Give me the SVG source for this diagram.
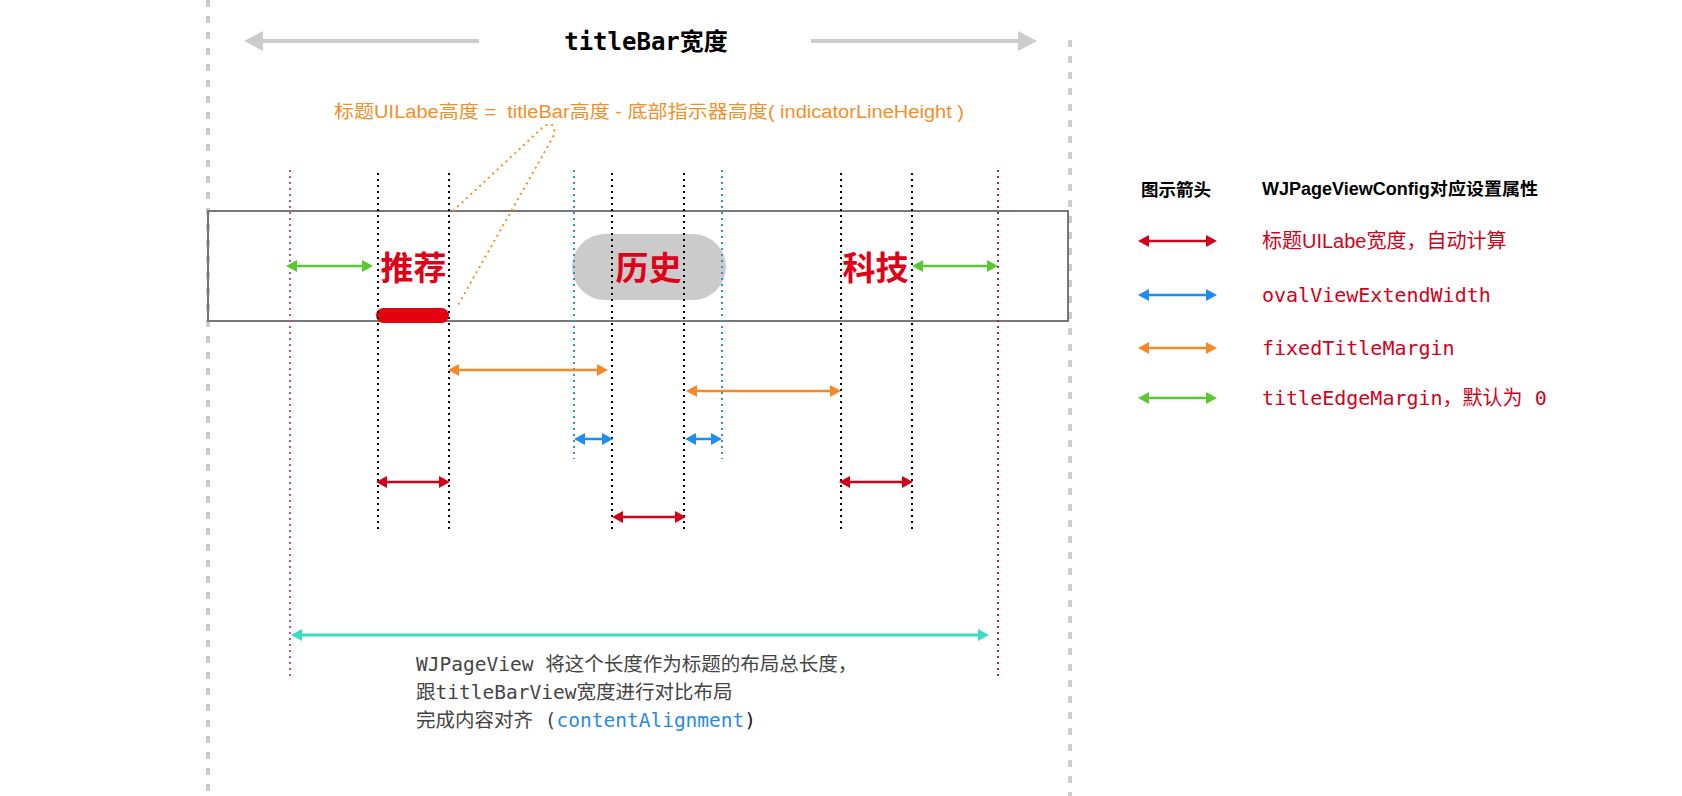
<svg xmlns="http://www.w3.org/2000/svg" width="1682" height="796" viewBox="0 0 1682 796">
<style>
.guide{fill:none;stroke:#cccccc;stroke-width:4;stroke-dasharray:7 9}
.dotk{stroke:#000;stroke-width:2;stroke-dasharray:2 4}
.dotb{stroke:#3a8fd0;stroke-width:2;stroke-dasharray:2 4}
.dotp1{stroke:#c8508c;stroke-width:2;stroke-dasharray:2 4}
.dotp2{stroke:#952a5c;stroke-width:2;stroke-dasharray:2 4}
.tt{font-family:"Noto Sans CJK SC",sans-serif;font-weight:bold;font-size:33px;fill:#e00018;text-anchor:middle}
.a{stroke-width:2.5;fill:none}
.ared{stroke:#d0021b;marker-start:url(#mr);marker-end:url(#mr)}
.ablue{stroke:#1e8cf0;marker-start:url(#mb);marker-end:url(#mb)}
.aor{stroke:#f5892a;marker-start:url(#mo);marker-end:url(#mo)}
.agr{stroke:#5ac832;marker-start:url(#mg);marker-end:url(#mg)}
.lg{font-size:20px;fill:#d0021b}
.mono{font-family:"DejaVu Sans Mono","Noto Sans CJK SC",monospace}
.sans{font-family:"Liberation Sans","Noto Sans CJK SC",sans-serif}
</style>
<defs>
<marker id="mr" viewBox="0 0 11 12" refX="0" refY="6" markerWidth="11" markerHeight="12" markerUnits="userSpaceOnUse" orient="auto-start-reverse"><path d="M0,0 L11,6 L0,12 z" fill="#d0021b"/></marker>
<marker id="mb" viewBox="0 0 11 12" refX="0" refY="6" markerWidth="11" markerHeight="12" markerUnits="userSpaceOnUse" orient="auto-start-reverse"><path d="M0,0 L11,6 L0,12 z" fill="#1e8cf0"/></marker>
<marker id="mo" viewBox="0 0 11 12" refX="0" refY="6" markerWidth="11" markerHeight="12" markerUnits="userSpaceOnUse" orient="auto-start-reverse"><path d="M0,0 L11,6 L0,12 z" fill="#f5892a"/></marker>
<marker id="mg" viewBox="0 0 11 12" refX="0" refY="6" markerWidth="11" markerHeight="12" markerUnits="userSpaceOnUse" orient="auto-start-reverse"><path d="M0,0 L11,6 L0,12 z" fill="#5ac832"/></marker>
<marker id="mt" viewBox="0 0 11 12" refX="0" refY="6" markerWidth="11" markerHeight="12" markerUnits="userSpaceOnUse" orient="auto-start-reverse"><path d="M0,0 L11,6 L0,12 z" fill="#3ddbc0"/></marker>
<marker id="mgray" viewBox="0 0 19 20" refX="0" refY="10" markerWidth="19" markerHeight="20" markerUnits="userSpaceOnUse" orient="auto"><path d="M0,0 L19,10 L0,20 z" fill="#cccccc"/></marker>
</defs>
<rect width="1682" height="796" fill="#fff"/>

<g id="guides">
<line class="guide" x1="208" y1="0" x2="208" y2="796"/>
<line class="guide" x1="1070" y1="40" x2="1070" y2="796"/>
</g>

<g id="width-label">
<line x1="479" y1="41" x2="263" y2="41" stroke="#cccccc" stroke-width="4" marker-end="url(#mgray)"/>
<line x1="811" y1="41" x2="1018" y2="41" stroke="#cccccc" stroke-width="4" marker-end="url(#mgray)"/>
<text x="646" y="50" text-anchor="middle" font-family="DejaVu Sans Mono,Noto Sans CJK SC,monospace" font-weight="bold" font-size="24" fill="#000">titleBar宽度</text>
</g>

<g id="formula">
<text x="334" y="118" class="sans" font-size="18" fill="#f0902a" textLength="630" lengthAdjust="spacingAndGlyphs">标题UILabe高度 =&#160; titleBar高度 - 底部指示器高度( indicatorLineHeight )</text>
</g>

<g id="oval">
<rect x="572" y="234" width="154" height="66" rx="33" fill="#cbcbcb"/>
</g>

<g id="titlebar">
<rect x="208" y="211" width="860" height="110" fill="none" stroke="#777777" stroke-width="2"/>
</g>

<g id="indicator">
<rect x="376" y="308" width="73" height="15" rx="7.5" fill="#e3000f"/>
</g>

<g id="dotted-lines">
<line class="dotp1" x1="290" y1="170" x2="290" y2="676"/>
<line class="dotp2" x1="998" y1="170" x2="998" y2="676"/>
<line class="dotk" x1="378" y1="173" x2="378" y2="533"/>
<line class="dotk" x1="449" y1="173" x2="449" y2="533"/>
<line class="dotk" x1="612" y1="173" x2="612" y2="533"/>
<line class="dotk" x1="684" y1="173" x2="684" y2="533"/>
<line class="dotk" x1="841" y1="173" x2="841" y2="533"/>
<line class="dotk" x1="912" y1="173" x2="912" y2="533"/>
<line class="dotb" x1="574" y1="170" x2="574" y2="459"/>
<line class="dotb" x1="722" y1="170" x2="722" y2="459"/>
</g>

<g id="title-tuijian"><text class="tt" x="413.5" y="280">推荐</text></g>
<g id="title-lishi"><text class="tt" x="648.5" y="280">历史</text></g>
<g id="title-keji"><text class="tt" x="875.5" y="280">科技</text></g>

<g id="connectors">
<path d="M453,211 L541,129 C548,121 558,123 553,137 L457,307" fill="none" stroke="#f0902a" stroke-width="2" stroke-dasharray="2 4"/>
<line class="a agr" x1="297" y1="266" x2="362" y2="266"/>
<line class="a agr" x1="923" y1="266" x2="987" y2="266"/>
<line class="a aor" x1="459" y1="370" x2="597" y2="370"/>
<line class="a aor" x1="697" y1="391" x2="830" y2="391"/>
<line class="a ablue" x1="585" y1="439" x2="602" y2="439"/>
<line class="a ablue" x1="696" y1="439" x2="711" y2="439"/>
<line class="a ared" x1="387" y1="482" x2="439" y2="482"/>
<line class="a ared" x1="850" y1="482" x2="902" y2="482"/>
<line class="a ared" x1="623" y1="517" x2="675" y2="517"/>
<line x1="302" y1="635" x2="978" y2="635" stroke="#3ddbc0" stroke-width="3" marker-start="url(#mt)" marker-end="url(#mt)"/>
</g>

<g id="note">
<text class="mono" font-size="19.5" fill="#444">
<tspan x="416" y="671">WJPageView 将这个长度作为标题的布局总长度，</tspan>
<tspan x="416" y="699">跟titleBarView宽度进行对比布局</tspan>
<tspan x="416" y="727">完成内容对齐 (<tspan fill="#2a8ae0">contentAlignment</tspan><tspan fill="#222">)</tspan></tspan>
</text>
</g>

<g id="legend">
<text x="1141" y="196" class="sans" font-weight="bold" font-size="17.5" fill="#000">图示箭头</text>
<text x="1262" y="195" class="sans" font-weight="bold" font-size="17.5" fill="#000" textLength="276" lengthAdjust="spacingAndGlyphs">WJPageViewConfig对应设置属性</text>
<line class="a ared" x1="1149" y1="241" x2="1206" y2="241"/>
<line class="a ablue" x1="1149" y1="295" x2="1206" y2="295"/>
<line class="a aor" x1="1149" y1="348" x2="1206" y2="348"/>
<line class="a agr" x1="1149" y1="398" x2="1206" y2="398"/>
<text x="1262" y="248" class="sans lg">标题UILabe宽度，自动计算</text>
<text x="1262" y="302" class="mono lg">ovalViewExtendWidth</text>
<text x="1262" y="355" class="mono lg">fixedTitleMargin</text>
<text x="1262" y="405" class="mono lg">titleEdgeMargin，默认为 0</text>
</g>
</svg>
